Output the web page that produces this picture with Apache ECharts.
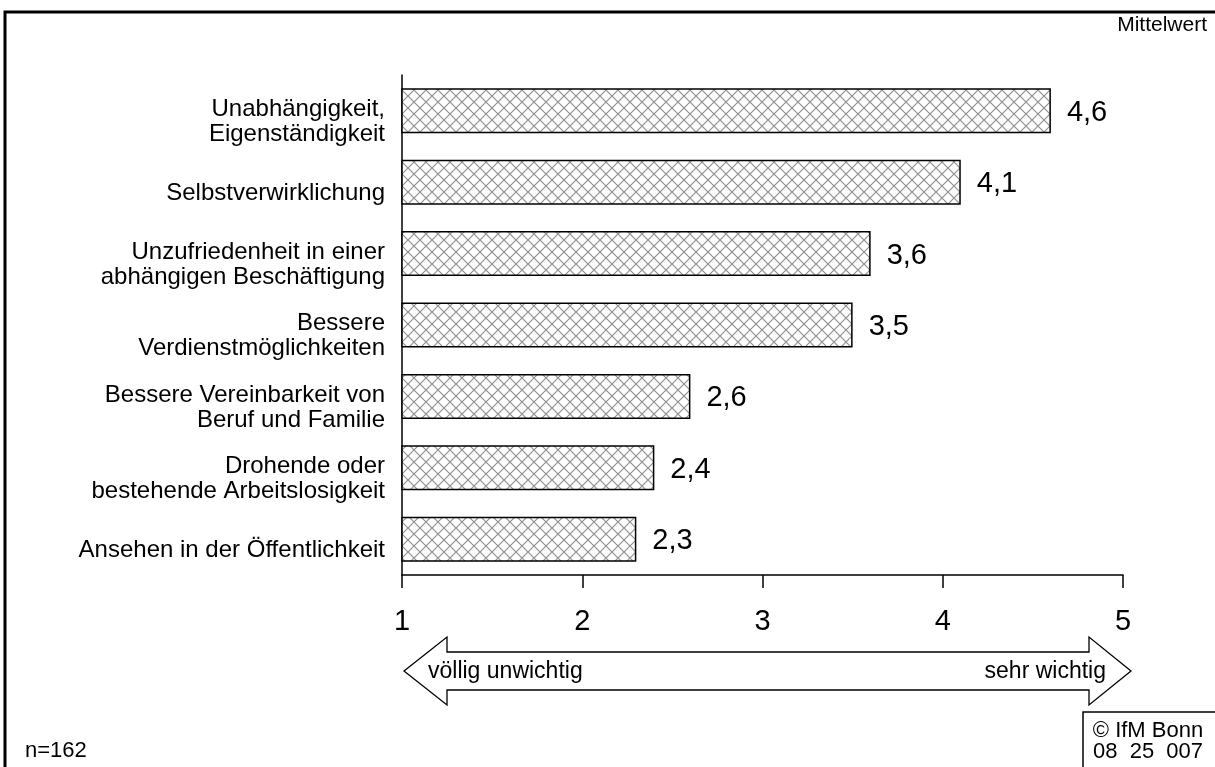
<!DOCTYPE html>
<html>
<head>
<meta charset="utf-8">
<script src="https://cdn.jsdelivr.net/npm/echarts@6/dist/echarts.min.js"></script>
<style>
  html, body { margin: 0; padding: 0; background: #fff; }
  #chart { width: 1215px; height: 767px; }
</style>
</head>
<body>
<div id="chart"></div>
<script>
// Motive für die Gründung – Mittelwerte (1 = völlig unwichtig, 5 = sehr wichtig)
const categories = [
  'Unabhängigkeit,\nEigenständigkeit',
  'Selbstverwirklichung',
  'Unzufriedenheit in einer\nabhängigen Beschäftigung',
  'Bessere\nVerdienstmöglichkeiten',
  'Bessere Vereinbarkeit von\nBeruf und Familie',
  'Drohende oder\nbestehende Arbeitslosigkeit',
  'Ansehen in der Öffentlichkeit'
];
const means = [4.6, 4.1, 3.6, 3.5, 2.6, 2.4, 2.3];
const tickValues = [1, 2, 3, 4, 5];

const FONT = "'Liberation Sans', Arial, sans-serif";

// Cross-hatch fill for the bars
function hatchCanvas() {
  const s = 12;
  const c = document.createElement('canvas');
  c.width = s; c.height = s;
  const g = c.getContext('2d');
  g.fillStyle = '#ffffff';
  g.fillRect(0, 0, s, s);
  g.strokeStyle = '#8f8f8f';
  g.lineWidth = 1.2;
  g.beginPath();
  g.moveTo(0, 0); g.lineTo(s, s);
  g.moveTo(s, 0); g.lineTo(0, s);
  g.stroke();
  return c;
}

const chart = echarts.init(document.getElementById('chart'), null, { renderer: 'canvas' });

chart.setOption({
  backgroundColor: '#ffffff',
  animation: false,
  textStyle: { fontFamily: FONT },
  grid: { left: 402, right: 92, top: 75, bottom: 192, containLabel: false },
  xAxis: {
    type: 'value',
    min: 1, max: 5, interval: 1,
    axisLine: { show: true, lineStyle: { color: '#000', width: 1.5 } },
    axisTick: { show: true, length: 13, lineStyle: { color: '#000', width: 1.5 } },
    splitLine: { show: false },
    axisLabel: {
      margin: 32, fontSize: 29, color: '#000', fontFamily: FONT,
      formatter: v => tickValues.includes(v) ? String(v) : ''
    }
  },
  yAxis: {
    type: 'category',
    data: categories,
    inverse: true,
    axisLine: { show: true, lineStyle: { color: '#000', width: 1.5 } },
    axisTick: { show: false },
    axisLabel: {
      margin: 17, fontSize: 24, color: '#000', lineHeight: 25,
      align: 'right', fontFamily: FONT,
      // a short spacer line above each label sets it slightly below the bar centre
      formatter: v => '{gap| }\n{t|' + v + '}',
      rich: {
        gap: { fontSize: 4, lineHeight: 22 },
        t: { fontSize: 24, lineHeight: 25, fontFamily: FONT, color: '#000' }
      }
    }
  },
  series: [{
    type: 'bar',
    data: means,
    barWidth: '63%',
    itemStyle: {
      color: { image: hatchCanvas(), repeat: 'repeat' },
      borderColor: '#000',
      borderWidth: 1.5
    },
    label: {
      show: true, position: 'right', distance: 16, offset: [0, 2],
      fontSize: 29, color: '#000', fontFamily: FONT,
      formatter: p => p.value.toFixed(1).replace('.', ',')
    }
  }],
  graphic: [
    // outer frame (left and top edges)
    { type: 'polyline', silent: true,
      shape: { points: [[5, 767], [5, 12], [1215, 12]] },
      style: { stroke: '#000', lineWidth: 3, fill: null } },
    { type: 'text', silent: true, x: 1207, y: 25,
      style: { text: 'Mittelwert', fontSize: 21, fill: '#000', fontFamily: FONT,
               textAlign: 'right', textVerticalAlign: 'middle' } },
    // double-headed scale arrow
    { type: 'polygon', silent: true,
      shape: { points: [
        [404, 671], [447, 637], [447, 652], [1089, 652], [1089, 637],
        [1131, 671], [1089, 705], [1089, 690], [447, 690], [447, 705]
      ] },
      style: { stroke: '#000', lineWidth: 1.3, fill: '#fff' } },
    { type: 'text', silent: true, x: 428, y: 672,
      style: { text: 'völlig unwichtig', fontSize: 23, fill: '#000', fontFamily: FONT,
               textAlign: 'left', textVerticalAlign: 'middle' } },
    { type: 'text', silent: true, x: 1106, y: 672,
      style: { text: 'sehr wichtig', fontSize: 23, fill: '#000', fontFamily: FONT,
               textAlign: 'right', textVerticalAlign: 'middle' } },
    { type: 'text', silent: true, x: 25, y: 751,
      style: { text: 'n=162', fontSize: 22, fill: '#000', fontFamily: FONT,
               textAlign: 'left', textVerticalAlign: 'middle' } },
    // source box
    { type: 'polyline', silent: true,
      shape: { points: [[1083, 767], [1083, 712], [1215, 712]] },
      style: { stroke: '#000', lineWidth: 1.5, fill: null } },
    { type: 'text', silent: true, x: 1148, y: 731,
      style: { text: '© IfM Bonn', fontSize: 22, fill: '#000', fontFamily: FONT,
               textAlign: 'center', textVerticalAlign: 'middle' } },
    { type: 'text', silent: true, x: 1148, y: 752,
      style: { text: '08  25  007', fontSize: 22, fill: '#000', fontFamily: FONT,
               textAlign: 'center', textVerticalAlign: 'middle' } }
  ]
});
</script>
</body>
</html>
